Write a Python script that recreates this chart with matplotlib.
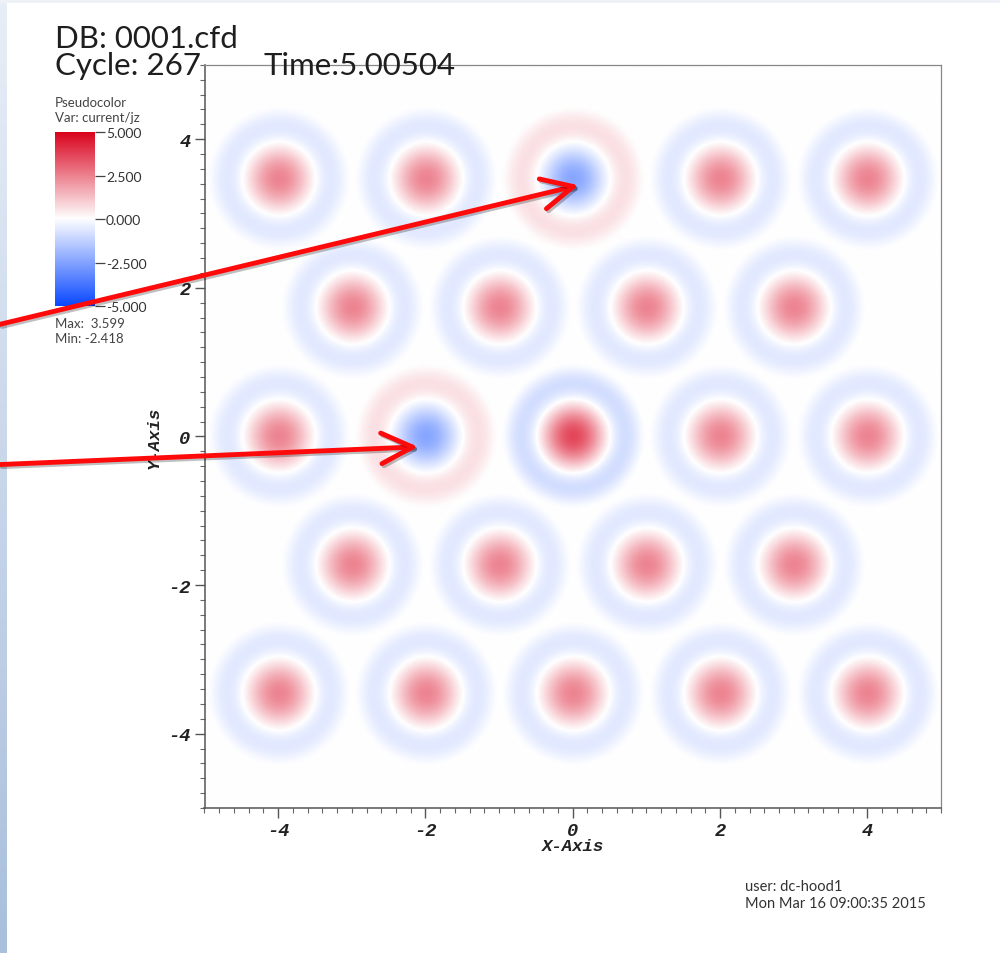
import numpy as np
import matplotlib
matplotlib.use("Agg")
import matplotlib.pyplot as plt
from matplotlib.colors import LinearSegmentedColormap
from matplotlib.patches import ConnectionPatch
from matplotlib.ticker import MultipleLocator
import matplotlib.patheffects as pe

# ---------------- data ----------------
tube_x = [-4, -2, 0, 2, 4,
          -3, -1, 1, 3,
          -4, -2, 0, 2, 4,
          -3, -1, 1, 3,
          -4, -2, 0, 2, 4]
tube_y = [3.464, 3.464, 3.464, 3.464, 3.464,
          1.732, 1.732, 1.732, 1.732,
          0.0, 0.0, 0.0, 0.0, 0.0,
          -1.732, -1.732, -1.732, -1.732,
          -3.464, -3.464, -3.464, -3.464, -3.464]
tube_amp = [2.4, 2.4, -2.418, 2.4, 2.4,
            2.4, 2.4, 2.4, 2.4,
            2.4, -2.418, 3.599, 2.4, 2.4,
            2.4, 2.4, 2.4, 2.4,
            2.4, 2.4, 2.4, 2.4, 2.4]
tube_radius = 1.0

x_ticks = [-4, -2, 0, 2, 4]
y_ticks = [-4, -2, 0, 2, 4]
cbar_ticks = [5.0, 2.5, 0.0, -2.5, -5.0]
var_min, var_max = -5.0, 5.0
data_max = 3.599
data_min = -2.418
db_name = "0001.cfd"
cycle = 267
time_str = "5.00504"
user_name = "dc-hood1"
date_str = "Mon Mar 16 09:00:35 2015"
arrow_targets = [(0.08, 3.38), (-2.1, -0.14)]
arrow_starts = [(0.0, 0.659), (0.0, 0.512)]

# ---------------- figure ----------------
fig = plt.figure(figsize=(10, 9.54), dpi=100)
fig.patch.set_facecolor("white")

# slide background strips
bg = fig.add_axes([0, 0, 0.007, 1], zorder=-5)
bg.imshow(np.linspace(0, 1, 200).reshape(-1, 1), aspect="auto",
          cmap=LinearSegmentedColormap.from_list("bgs", ["#a9bfdc", "#e8eef7"]),
          origin="lower", extent=(0, 1, 0, 1))
bg.axis("off")
tb = fig.add_axes([0, 1 - 4 / 954, 1, 4 / 954], zorder=-5)
tb.set_facecolor("#eef2f7")
tb.set_xticks([]); tb.set_yticks([])
for s in tb.spines.values():
    s.set_visible(False)

cmap = LinearSegmentedColormap.from_list(
    "visit_diff", [(0.0, "#0a48ff"), (0.5, "#ffffff"), (1.0, "#d9001b")])

# field
xs = np.linspace(-5, 5, 700)
X, Y = np.meshgrid(xs, xs)
Z = np.zeros_like(X)
for tx, ty, a in zip(tube_x, tube_y, tube_amp):
    r2 = ((X - tx) ** 2 + (Y - ty) ** 2) / tube_radius ** 2
    Z += np.where(r2 < 1, a * (1 - r2) ** 2 * (1 - 4 * r2), 0.0)

ax = fig.add_axes([0.2045, 0.152, 0.7365, 0.779])
ax.imshow(Z, extent=(-5, 5, -5, 5), origin="lower", cmap=cmap,
          vmin=var_min, vmax=var_max, interpolation="bilinear", aspect="auto")
ax.set_xlim(-5, 5)
ax.set_ylim(-5, 5)

tickfont = dict(family="Liberation Mono", weight="bold", style="italic", size=13.5)
ax.set_xticks(x_ticks)
ax.set_yticks(y_ticks)
ax.set_xticklabels([str(v) for v in x_ticks], fontdict=tickfont)
ax.set_yticklabels([str(v) for v in y_ticks], fontdict=tickfont)
ax.xaxis.set_minor_locator(MultipleLocator(0.2))
ax.yaxis.set_minor_locator(MultipleLocator(0.2))
ax.tick_params(which="major", length=7, width=1, direction="out", color="#555555",
               pad=3, labelcolor="#222222")
ax.tick_params(which="minor", length=3.5, width=0.8, direction="out", color="#666666")
ax.tick_params(which="both", top=False, right=False)
for side in ["left", "bottom"]:
    ax.spines[side].set_color("#555555")
    ax.spines[side].set_linewidth(1.1)
for side in ["top", "right"]:
    ax.spines[side].set_color("#888888")
    ax.spines[side].set_linewidth(0.9)

labfont = dict(family="Liberation Mono", weight="bold", style="italic", size=12.5)
ax.set_xlabel("X-Axis", fontdict=labfont, color="#222222")
ax.set_ylabel("Y-Axis", fontdict=labfont, color="#222222")
ax.xaxis.set_label_coords(0.5, -0.041)
ax.yaxis.set_label_coords(-0.058, 0.5)

# ---------------- colorbar legend ----------------
cax = fig.add_axes([0.055, 0.678, 0.040, 0.1826])
cax.imshow(np.linspace(var_min, var_max, 256).reshape(-1, 1), aspect="auto",
           cmap=cmap, vmin=var_min, vmax=var_max, origin="lower",
           extent=(0, 1, var_min, var_max))
cax.set_xlim(0, 1)
cax.set_ylim(var_min, var_max)
cax.set_xticks([])
cax.yaxis.tick_right()
cax.set_yticks(cbar_ticks)
cax.set_yticklabels([f"{v:.3f}" for v in cbar_ticks], family="Lato",
                    fontsize=10, color="#333333")
cax.tick_params(axis="y", length=7, width=0.9, color="#444444", pad=1)
for s in cax.spines.values():
    s.set_visible(False)

lf = dict(family="Lato", fontsize=9.5, color="#444444", va="center", ha="left")
fig.text(0.055, 1 - 103 / 954, "Pseudocolor", **lf)
fig.text(0.055, 1 - 118 / 954, "Var: current/jz", **lf)
fig.text(0.055, 1 - 324 / 954, f"Max:  {data_max:.3f}", **lf)
fig.text(0.055, 1 - 339 / 954, f"Min: {data_min:.3f}", **lf)

# ---------------- title texts ----------------
tf = dict(family="Lato", fontsize=22.5, weight="normal", color="#1e1e1e",
          va="baseline", ha="left")
fig.text(0.055, 1 - 48 / 954, f"DB: {db_name}", **tf)
fig.text(0.055, 1 - 75 / 954, f"Cycle: {cycle}", **tf)
fig.text(0.263, 1 - 75 / 954, f"Time:{time_str}", **tf)

bf = dict(family="Lato", fontsize=10.5, color="#333333", va="center", ha="left")
fig.text(0.745, 1 - 887 / 954, f"user: {user_name}", **bf)
fig.text(0.745, 1 - 904 / 954, date_str, **bf)

# ---------------- arrows ----------------
for (sx, sy), (tx, ty) in zip(arrow_starts, arrow_targets):
    con = ConnectionPatch(xyA=(sx, sy), coordsA=fig.transFigure,
                          xyB=(tx, ty), coordsB=ax.transData,
                          arrowstyle="->,head_length=0.45,head_width=0.22",
                          mutation_scale=50, color="#ff0a0a", linewidth=3.5,
                          shrinkA=0, shrinkB=0, zorder=20, clip_on=False,
                          capstyle="round", joinstyle="round")
    con.set_path_effects([pe.SimpleLineShadow(offset=(1.5, -1.5), alpha=0.25),
                          pe.Normal()])
    fig.add_artist(con)

fig.savefig("out.png", dpi=100)
